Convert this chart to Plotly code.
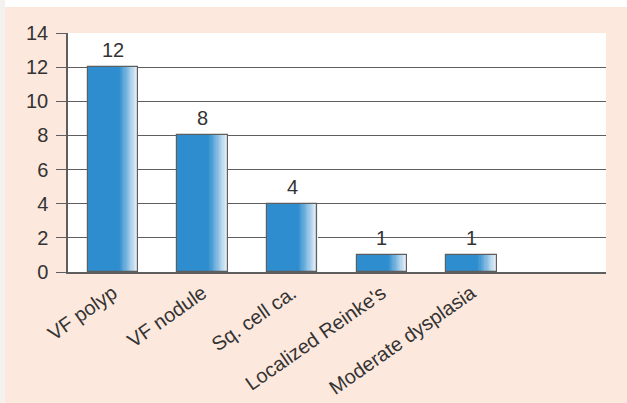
import plotly.graph_objects as go

# Lesion counts per diagnosis
categories = ["VF polyp", "VF nodule", "Sq. cell ca.", "Localized Reinke's", "Moderate dysplasia"]
counts = [12, 8, 4, 1, 1]
y_ticks = [0, 2, 4, 6, 8, 10, 12, 14]

FONT = "Arial, 'Liberation Sans', Helvetica, sans-serif"
BLUE = (46, 141, 206)
LIGHT = (240, 245, 251)

xs = list(range(len(categories)))
bar_w = 0.56           # bar width as a fraction of a category slot
solid_frac = 0.62      # left part of each bar in flat colour
n_fade = 16            # strips that fade to white on the right

fig = go.Figure()


def add_strip(a, b, rgb):
    fig.add_trace(go.Bar(
        x=xs, y=counts,
        width=bar_w * (b - a) + 0.004,
        offset=-bar_w / 2 + bar_w * a,
        marker=dict(color="rgb(%d,%d,%d)" % rgb, line=dict(width=0)),
        hoverinfo="skip", showlegend=False,
    ))


# flat part of each bar
add_strip(0.0, solid_frac, BLUE)
# horizontal fade towards the right edge
for i in range(n_fade):
    a = solid_frac + (1 - solid_frac) * i / n_fade
    b = solid_frac + (1 - solid_frac) * (i + 1) / n_fade
    t = ((i + 0.5) / n_fade) ** 1.1
    rgb = tuple(round(BLUE[k] + (LIGHT[k] - BLUE[k]) * t) for k in range(3))
    add_strip(a, b, rgb)

# bar outlines
fig.add_trace(go.Bar(
    x=xs, y=counts, width=bar_w,
    marker=dict(color="rgba(0,0,0,0)", line=dict(color="#5e5e5e", width=1.2)),
    hoverinfo="skip", showlegend=False,
))

# value labels above bars
for x, v in zip(xs, counts):
    fig.add_annotation(x=x, y=v, text=str(v), showarrow=False,
                       yanchor="bottom", yshift=4,
                       font=dict(family=FONT, size=20, color="#333333"))

# white frame strips around the pink panel
fig.add_shape(type="rect", xref="paper", yref="paper",
              x0=-0.2, x1=1.2, y0=(272 - 7) / 239, y1=1.2,
              fillcolor="white", line=dict(width=0), layer="below")
fig.add_shape(type="rect", xref="paper", yref="paper",
              x0=-0.2, x1=-63 / 538, y0=-0.6, y1=1.2,
              fillcolor="#f4f1ef", line=dict(width=0), layer="below")

fig.update_layout(
    width=627, height=403,
    margin=dict(l=68, r=21, t=33, b=131),
    paper_bgcolor="#fde8dd",
    plot_bgcolor="white",
    barmode="overlay",
    bargap=0,
    showlegend=False,
    font=dict(family=FONT, color="#333333"),
)

fig.update_xaxes(
    range=[-0.5, 5.5],
    tickvals=xs, ticktext=categories,
    tickangle=-35,
    tickfont=dict(family=FONT, size=20, color="#333333"),
    showgrid=False, zeroline=False,
    showline=True, linecolor="#5e5e5e", linewidth=1.5,
    ticks="", automargin=False,
)

fig.update_yaxes(
    range=[0, 14],
    tickvals=y_ticks,
    tickfont=dict(family=FONT, size=20, color="#333333"),
    showgrid=True, gridcolor="#5e5e5e", gridwidth=1.3,
    zeroline=False,
    showline=True, linecolor="#5e5e5e", linewidth=1.5,
    ticks="outside", ticklen=10, tickcolor="#5e5e5e", tickwidth=1.3,
    ticklabelstandoff=4, automargin=False,
)

fig.write_html("out.html")
